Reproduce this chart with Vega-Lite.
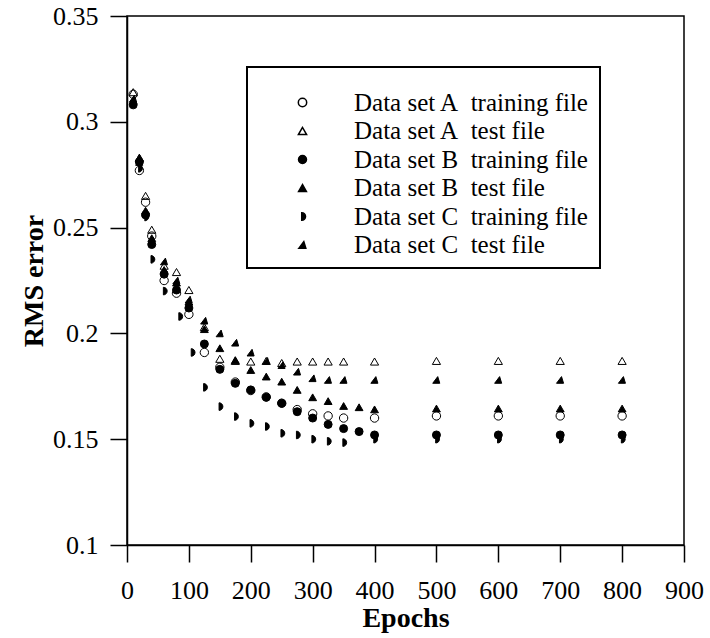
{
  "$schema": "https://vega.github.io/schema/vega-lite/v6.json",
  "autosize": "none",
  "width": 557,
  "height": 529,
  "padding": {"left": 127, "top": 16, "right": 26, "bottom": 93},
  "background": "white",
  "config": {
    "font": "Liberation Serif",
    "view": {"stroke": "black", "strokeWidth": 1.5},
    "legend": {"strokeWidth": 2},
    "axis": {"grid": false, "domainColor": "black", "domainWidth": 1.5, "tickColor": "black", "tickWidth": 1.5, "tickSize": 17,
      "labelFont": "Liberation Serif", "labelFontSize": 26, "labelColor": "black", "labelFlush": false, "labelOverlap": false, "labelBound": false,
      "titleFont": "Liberation Serif", "titleFontSize": 28, "titleFontWeight": "bold", "titleColor": "black"}
  },
  "data": {"values": [
    {"s":"At","e":10,"v":0.313},{"s":"At","e":20,"v":0.277},{"s":"At","e":30,"v":0.262},{"s":"At","e":40,"v":0.246},{"s":"At","e":60,"v":0.225},{"s":"At","e":80,"v":0.219},{"s":"At","e":100,"v":0.209},{"s":"At","e":125,"v":0.191},{"s":"At","e":150,"v":0.184},{"s":"At","e":175,"v":0.177},{"s":"At","e":200,"v":0.173},{"s":"At","e":225,"v":0.170},{"s":"At","e":250,"v":0.167},{"s":"At","e":275,"v":0.164},{"s":"At","e":300,"v":0.162},{"s":"At","e":325,"v":0.161},{"s":"At","e":350,"v":0.160},{"s":"At","e":400,"v":0.160},{"s":"At","e":500,"v":0.161},{"s":"At","e":600,"v":0.161},{"s":"At","e":700,"v":0.161},{"s":"At","e":800,"v":0.161},
    {"s":"Ae","e":10,"v":0.314},{"s":"Ae","e":20,"v":0.283},{"s":"Ae","e":30,"v":0.265},{"s":"Ae","e":40,"v":0.249},{"s":"Ae","e":60,"v":0.232},{"s":"Ae","e":80,"v":0.229},{"s":"Ae","e":100,"v":0.2205},{"s":"Ae","e":125,"v":0.203},{"s":"Ae","e":150,"v":0.188},{"s":"Ae","e":175,"v":0.187},{"s":"Ae","e":200,"v":0.1867},{"s":"Ae","e":225,"v":0.187},{"s":"Ae","e":250,"v":0.186},{"s":"Ae","e":275,"v":0.1867},{"s":"Ae","e":300,"v":0.1867},{"s":"Ae","e":325,"v":0.1867},{"s":"Ae","e":350,"v":0.1867},{"s":"Ae","e":400,"v":0.1867},{"s":"Ae","e":500,"v":0.187},{"s":"Ae","e":600,"v":0.187},{"s":"Ae","e":700,"v":0.187},{"s":"Ae","e":800,"v":0.187},
    {"s":"Bt","e":10,"v":0.308},{"s":"Bt","e":20,"v":0.281},{"s":"Bt","e":30,"v":0.256},{"s":"Bt","e":40,"v":0.242},{"s":"Bt","e":60,"v":0.228},{"s":"Bt","e":80,"v":0.2205},{"s":"Bt","e":100,"v":0.212},{"s":"Bt","e":125,"v":0.195},{"s":"Bt","e":150,"v":0.183},{"s":"Bt","e":175,"v":0.1764},{"s":"Bt","e":200,"v":0.1733},{"s":"Bt","e":225,"v":0.1698},{"s":"Bt","e":250,"v":0.167},{"s":"Bt","e":275,"v":0.163},{"s":"Bt","e":300,"v":0.160},{"s":"Bt","e":325,"v":0.157},{"s":"Bt","e":350,"v":0.155},{"s":"Bt","e":375,"v":0.1536},{"s":"Bt","e":400,"v":0.152},{"s":"Bt","e":500,"v":0.152},{"s":"Bt","e":600,"v":0.152},{"s":"Bt","e":700,"v":0.152},{"s":"Bt","e":800,"v":0.152},
    {"s":"Be","e":10,"v":0.310},{"s":"Be","e":20,"v":0.283},{"s":"Be","e":30,"v":0.258},{"s":"Be","e":40,"v":0.245},{"s":"Be","e":60,"v":0.230},{"s":"Be","e":80,"v":0.224},{"s":"Be","e":100,"v":0.215},{"s":"Be","e":125,"v":0.202},{"s":"Be","e":150,"v":0.193},{"s":"Be","e":175,"v":0.1874},{"s":"Be","e":200,"v":0.1827},{"s":"Be","e":225,"v":0.1796},{"s":"Be","e":250,"v":0.1772},{"s":"Be","e":275,"v":0.1733},{"s":"Be","e":300,"v":0.1698},{"s":"Be","e":325,"v":0.168},{"s":"Be","e":350,"v":0.1657},{"s":"Be","e":375,"v":0.1651},{"s":"Be","e":400,"v":0.1641},{"s":"Be","e":500,"v":0.1645},{"s":"Be","e":600,"v":0.1645},{"s":"Be","e":700,"v":0.1645},{"s":"Be","e":800,"v":0.1645},
    {"s":"Ct","e":10,"v":0.309},{"s":"Ct","e":20,"v":0.278},{"s":"Ct","e":30,"v":0.255},{"s":"Ct","e":40,"v":0.235},{"s":"Ct","e":60,"v":0.220},{"s":"Ct","e":85,"v":0.208},{"s":"Ct","e":105,"v":0.191},{"s":"Ct","e":125,"v":0.1745},{"s":"Ct","e":150,"v":0.1654},{"s":"Ct","e":175,"v":0.1607},{"s":"Ct","e":200,"v":0.1575},{"s":"Ct","e":225,"v":0.156},{"s":"Ct","e":250,"v":0.1528},{"s":"Ct","e":275,"v":0.152},{"s":"Ct","e":300,"v":0.150},{"s":"Ct","e":325,"v":0.149},{"s":"Ct","e":350,"v":0.1484},{"s":"Ct","e":400,"v":0.150},{"s":"Ct","e":500,"v":0.150},{"s":"Ct","e":600,"v":0.150},{"s":"Ct","e":700,"v":0.150},{"s":"Ct","e":800,"v":0.150},
    {"s":"Ce","e":10,"v":0.311},{"s":"Ce","e":20,"v":0.281},{"s":"Ce","e":30,"v":0.257},{"s":"Ce","e":40,"v":0.244},{"s":"Ce","e":60,"v":0.234},{"s":"Ce","e":80,"v":0.225},{"s":"Ce","e":100,"v":0.216},{"s":"Ce","e":125,"v":0.206},{"s":"Ce","e":150,"v":0.200},{"s":"Ce","e":175,"v":0.1956},{"s":"Ce","e":200,"v":0.1909},{"s":"Ce","e":225,"v":0.187},{"s":"Ce","e":250,"v":0.185},{"s":"Ce","e":275,"v":0.1819},{"s":"Ce","e":300,"v":0.1788},{"s":"Ce","e":325,"v":0.178},{"s":"Ce","e":350,"v":0.178},{"s":"Ce","e":400,"v":0.178},{"s":"Ce","e":500,"v":0.178},{"s":"Ce","e":600,"v":0.178},{"s":"Ce","e":700,"v":0.178},{"s":"Ce","e":800,"v":0.178}
  ]},
  "mark": {"type": "point", "stroke": "black", "strokeWidth": 1, "opacity": 1},
  "encoding": {
    "x": {"field": "e", "type": "quantitative", "scale": {"domain": [0, 900], "nice": false, "zero": false},
      "axis": {"title": "Epochs", "values": [0,100,200,300,400,500,600,700,800,900], "format": "d", "labelPadding": 15, "titlePadding": 1}},
    "y": {"field": "v", "type": "quantitative", "scale": {"domain": [0.1, 0.35], "nice": false, "zero": false},
      "axis": {"title": "RMS error", "values": [0.1,0.15,0.2,0.25,0.3,0.35], "format": ".2~f", "labelPadding": 12, "titlePadding": 4}},
    "shape": {"field": "s", "type": "nominal",
      "scale": {"domain": ["At","Ae","Bt","Be","Ct","Ce"], "range": ["circle","triangle-up","circle","triangle-up","M-0.2,-1A1,1,0,0,1,-0.2,1Z","M-1,0.9L0.35,-0.9L0.9,0.9Z"]},
      "legend": {"orient": "none", "legendX": 120, "legendY": 51, "title": "\u00a0", "titleFontSize": 10, "titlePadding": 3,
        "padding": 10, "strokeColor": "black", "fillColor": "white",
        "labelFont": "Liberation Serif", "labelFontSize": 25, "labelColor": "black", "labelLimit": 400,
        "symbolOffset": 33, "labelOffset": 39, "rowPadding": 2.5,
        "labelExpr": "{'At':'Data set A\u00a0\u00a0training file','Ae':'Data set A\u00a0\u00a0test file','Bt':'Data set B\u00a0\u00a0training file','Be':'Data set B\u00a0\u00a0test file','Ct':'Data set C\u00a0\u00a0training file','Ce':'Data set C\u00a0\u00a0test file'}[datum.label]"}},
    "fill": {"field": "s", "type": "nominal",
      "scale": {"domain": ["At","Ae","Bt","Be","Ct","Ce"], "range": ["transparent","transparent","black","black","black","black"]}},
    "size": {"field": "s", "type": "nominal",
      "scale": {"domain": ["At","Ae","Bt","Be","Ct","Ce"], "range": [70, 55, 115, 75, 140, 85]}}
  }
}
